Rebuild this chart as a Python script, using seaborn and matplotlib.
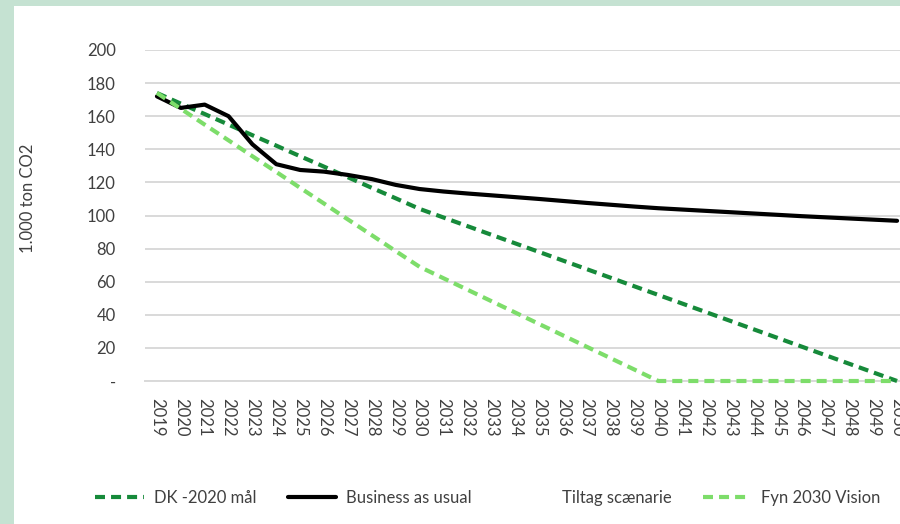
from __future__ import annotations

import matplotlib

matplotlib.use("Agg")

import matplotlib.pyplot as plt
import pandas as pd
import seaborn as sns
from matplotlib.lines import Line2D
from matplotlib.patches import Rectangle

years = list(range(2019, 2051))

dk_2020 = [174, 167.6, 161.3, 154.9, 148.5, 142.2, 135.8, 129.5, 123.1, 116.7, 110.4, 104,
           98.8, 93.6, 88.4, 83.2, 78, 72.8, 67.6, 62.4, 57.2, 52,
           46.8, 41.6, 36.4, 31.2, 26, 20.8, 15.6, 10.4, 5.2, 0]
business_as_usual = [172, 165, 167, 160, 143, 131, 127.5, 126.5, 124.5, 122, 118.5, 116,
                     114.5, 113.3, 112.2, 111.1, 110, 108.8, 107.6, 106.5, 105.4, 104.4,
                     103.6, 102.8, 102, 101.2, 100.4, 99.6, 98.9, 98.2, 97.5, 96.8]
fyn_2030 = [174, 164.5, 154.9, 145.4, 135.8, 126.3, 116.7, 107.2, 97.6, 88.1, 78.5, 69,
            62.1, 55.2, 48.3, 41.4, 34.5, 27.6, 20.7, 13.8, 6.9, 0,
            0, 0, 0, 0, 0, 0, 0, 0, 0, 0]

series_names = ["DK -2020 mål", "Business as usual", "Tiltag scænarie", "Fyn 2030 Vision"]
y_ticks = list(range(0, 201, 20))
y_labels = ["-"] + [str(v) for v in y_ticks[1:]]

DARK_GREEN = "#168a3a"
LIGHT_GREEN = "#7ddd6a"
TEXT = "#404040"
LW = 3.0
DASH = (2.4, 1.45)


def main() -> None:
    sns.set_style("white")
    plt.rcParams["font.family"] = ["Lato", "DejaVu Sans"]

    df = pd.concat(
        [
            pd.DataFrame({"year": years, "value": dk_2020, "serie": series_names[0]}),
            pd.DataFrame({"year": years, "value": business_as_usual, "serie": series_names[1]}),
            pd.DataFrame({"year": years, "value": fyn_2030, "serie": series_names[3]}),
        ],
        ignore_index=True,
    )

    fig = plt.figure(figsize=(9, 5.24), dpi=100, facecolor="#c5e2d2")
    # white panel inside the green frame, kept behind the axes
    fig.patches.append(
        Rectangle((14 / 900, 0), 1, 1 - 6 / 524, transform=fig.transFigure,
                  facecolor="white", edgecolor="none", zorder=-5)
    )
    ax = fig.add_axes([145 / 900, 1 - 381 / 524, 764 / 900, 331 / 524])
    ax.set_facecolor("none")

    palette = {series_names[0]: DARK_GREEN, series_names[1]: "black", series_names[3]: LIGHT_GREEN}
    dashes = {series_names[0]: DASH, series_names[1]: "", series_names[3]: DASH}
    order = [series_names[0], series_names[1], series_names[3]]
    sns.lineplot(
        data=df, x="year", y="value", hue="serie", style="serie",
        palette=palette, dashes=dashes, linewidth=LW, legend=False, ax=ax,
        hue_order=order, style_order=order,
    )
    for line in ax.lines:
        line.set_clip_on(False)
        line.set_zorder(3)
        line.set_solid_joinstyle("round")

    ax.set_xlim(years[0] - 0.5, years[-1] + 0.5)
    ax.set_ylim(0, 200)
    ax.set_xticks(years)
    ax.set_xticklabels([str(y) for y in years], rotation=-90, ha="center", va="top", fontsize=12)
    ax.set_yticks(y_ticks)
    ax.set_yticklabels(y_labels, fontsize=12)
    ax.tick_params(axis="both", length=0, colors=TEXT)
    ax.tick_params(axis="y", pad=21)
    ax.tick_params(axis="x", pad=12)
    ax.yaxis.grid(True, color="#d9d9d9", linewidth=1.4)
    ax.set_axisbelow(True)
    for side in ["top", "right", "left"]:
        ax.spines[side].set_visible(False)
    ax.spines["bottom"].set_color("#d9d9d9")
    ax.spines["bottom"].set_linewidth(1.4)
    ax.set_xlabel("")
    ax.set_ylabel("")

    fig.text(28 / 900, 1 - 198 / 524, "1.000 ton CO2", rotation=90, ha="center", va="center",
             fontsize=12, color=TEXT)

    handles = [
        Line2D([], [], color=DARK_GREEN, linewidth=LW, dashes=DASH),
        Line2D([], [], color="black", linewidth=LW),
        Line2D([], [], color="white", linewidth=LW),
        Line2D([], [], color=LIGHT_GREEN, linewidth=LW, dashes=DASH),
    ]
    fig.legend(
        handles, series_names, loc="center", bbox_to_anchor=(488 / 900, 1 - 498 / 524),
        ncol=4, frameon=False, fontsize=12, handlelength=2.9, handletextpad=0.6,
        columnspacing=1.9, labelcolor=TEXT,
    )

    fig.savefig("out.png", dpi=100, facecolor=fig.get_facecolor())
    plt.close(fig)


if __name__ == "__main__":
    main()
